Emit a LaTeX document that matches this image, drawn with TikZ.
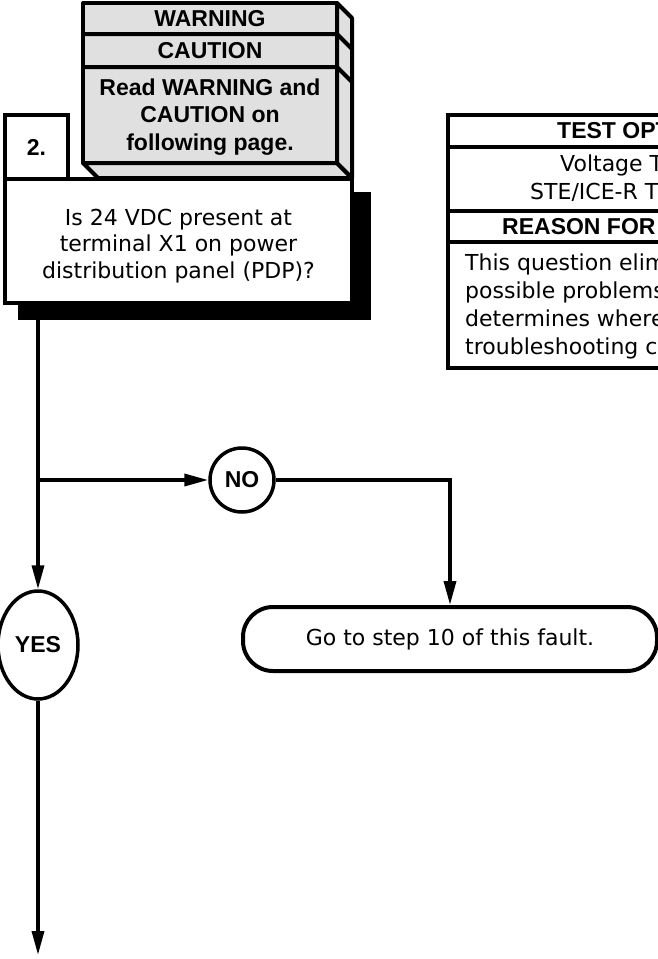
\documentclass[tikz,border=0pt]{standalone}
\usepackage{fontspec}
\setmainfont{DejaVu Sans}
\newfontfamily\hdfont{Liberation Sans}
\usetikzlibrary{arrows.meta,shapes.geometric}
\definecolor{stackgray}{HTML}{E0E0E0}
\tikzset{
  regtext/.style={font=\fontsize{22}{26.5}\selectfont, inner sep=0pt},
  boldtext/.style={font=\hdfont\bfseries\fontsize{23}{27.5}\selectfont, inner sep=0pt},
  box/.style={draw, line width=4pt, fill=white, inner sep=0pt},
  stackface/.style={fill=stackgray, draw, line width=4pt, line join=round},
  conn/.style={line width=3.5pt, -{Triangle[length=24pt,width=12pt]}},
  panelline/.style={line width=4.5pt},
}
\begin{document}
\begin{tikzpicture}[x=1pt,y=-1pt]
\useasboundingbox (0,0) rectangle (658,959);

% shadow of the question box
\fill[black] (18,192) rectangle (371,320);
% question box
\node[box, minimum width=347pt, minimum height=124pt] (q) at (178.5,241) {};
\node[regtext, align=center] (qt) at (178.5,246)
  {Is 24 VDC present at\\terminal X1 on power\\distribution panel (PDP)?};
% step number box
\node[box, boldtext, minimum width=63pt, minimum height=64pt] (num) at (36.5,147) {2.};

% warning / caution stack
\path[stackface] (83,163) -- (98,178) -- (352,178) -- (337,163) -- cycle;
\path[stackface] (337,3) -- (352,18) -- (352,178) -- (337,163) -- cycle;
\path[stackface] (83,3) rectangle (337,163);
\draw[line width=4pt, line join=round] (83,34) -- (337,34) -- (352,49);
\draw[line width=4pt, line join=round] (83,67) -- (337,67) -- (352,82);
\node[boldtext] (w1) at (210,19) {WARNING};
\node[boldtext] (w2) at (210,51) {CAUTION};
\node[boldtext, align=center] (w3) at (210,117) {Read WARNING and\\CAUTION on\\following page.};

% test option panel (cut by the page edge)
\begin{scope}
  \clip (0,0) rectangle (658,959);
  \draw[panelline] (448,115) rectangle (720,368);
  \draw[panelline] (448,147) -- (720,147);
  \draw[panelline] (448,211) -- (720,211);
  \draw[panelline] (448,242) -- (720,242);
  \node[boldtext, anchor=west] (t1) at (557,131) {TEST OPT};
  \node[regtext, anchor=west] (t2) at (560,165) {Voltage T};
  \node[regtext, anchor=west] (t3) at (530,192) {STE/ICE-R T};
  \node[boldtext, anchor=west] (t4) at (502,227) {REASON FOR};
  \node[regtext, anchor=north west, align=left, font=\fontsize{22}{28}\selectfont] (t5) at (465,254)
    {This question elim\\possible problems\\determines where\\troubleshooting co};
\end{scope}

% decision circles and result box
\node[draw, circle, line width=3.5pt, minimum size=64pt, boldtext] (no) at (242,480) {NO};
\node[draw, ellipse, line width=3.5pt, minimum width=80pt, minimum height=108pt, boldtext] (yes) at (38,645) {YES};
\node[box, regtext, rounded corners=30pt, minimum width=414pt, minimum height=64pt] (goto) at (450,639)
  {Go to step 10 of this fault.};

% connectors
\coordinate (j) at (38,480);
\coordinate (end) at (38,955);
\draw[conn] (yes.north |- q.south) -- (yes.north);
\draw[conn] (j) -- (no.west);
\draw[conn] (no.east) -| (goto.north);
\draw[conn] (yes.south) -- (end);
\end{tikzpicture}
\end{document}
